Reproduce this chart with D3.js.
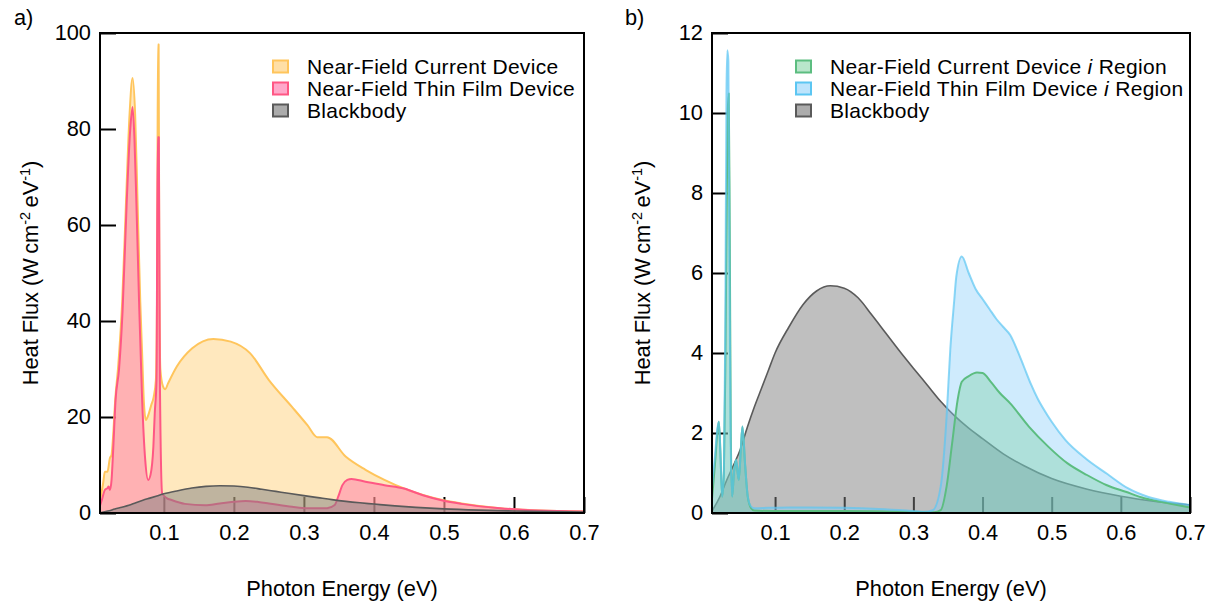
<!DOCTYPE html>
<html>
  <head>
    <meta charset="utf-8">
    <title>Heat flux spectra</title>
    <style type="text/css">
      body { margin: 0; background: #fff; overflow: hidden; }
      text { font-family: "Liberation Sans", Arial, Helvetica, sans-serif; fill: #000; }
    </style>
    <script src="https://d3js.org/d3.v7.min.js"></script>
  </head>
  <body>
    <svg width="1212" height="602"></svg>
    <script>
      // ---- data (photon energy in eV, flux in W cm^-2 eV^-1) ----
      const blackbodyE = [0.0088, 0.02, 0.03, 0.04, 0.05, 0.06, 0.07, 0.08, 0.09, 0.10, 0.12, 0.14, 0.16, 0.18,
        0.20, 0.22, 0.24, 0.26, 0.28, 0.30, 0.32, 0.34, 0.36, 0.38, 0.40, 0.43, 0.46, 0.50, 0.55, 0.60, 0.65, 0.70];
      const blackbodyFlux = [0.05, 0.4, 0.82, 1.2, 1.6, 2.15, 2.65, 3.1, 3.55, 4.0, 4.65, 5.2, 5.55, 5.68,
        5.62, 5.38, 4.95, 4.5, 4.05, 3.62, 3.2, 2.78, 2.42, 2.12, 1.86, 1.48, 1.18, 0.86, 0.6, 0.42, 0.29, 0.2];

      const currentE = [0.0088, 0.0133, 0.0157, 0.0195, 0.0229, 0.0253, 0.0275, 0.0305, 0.035, 0.0405, 0.046, 0.051,
        0.0553, 0.059, 0.0624, 0.0663, 0.069, 0.0715, 0.0743, 0.078, 0.082, 0.0855, 0.0886, 0.0905, 0.0915, 0.0925,
        0.0935, 0.095, 0.0985, 0.102, 0.106, 0.1185, 0.1405, 0.1707, 0.1955, 0.223, 0.25, 0.283, 0.305, 0.319, 0.333,
        0.36, 0.388, 0.415, 0.443, 0.47, 0.498, 0.525, 0.58, 0.635, 0.70];
      const currentFlux = [2.7, 6.2, 8.6, 8.6, 11.4, 12.1, 16, 23.5, 31, 44, 65, 83,
        90.6, 83, 65, 44, 33, 23, 19.4, 20.5, 22.5, 24.2, 27.7, 50, 97.6, 97.6,
        50, 30, 26.5, 25.8, 27, 30.5, 34.3, 36.25, 35.7, 33.3, 27.7, 22.1, 18.3, 15.8, 15.8,
        11.7, 9.0, 6.9, 5.1, 3.75, 2.7, 2.0, 1.0, 0.5, 0.3];

      const thinFilmE = [0.0088, 0.012, 0.0157, 0.0195, 0.021, 0.0229, 0.0253, 0.0276, 0.031, 0.036, 0.041, 0.047,
        0.052, 0.0553, 0.058, 0.0607, 0.0646, 0.069, 0.0734, 0.0776, 0.081, 0.085, 0.087, 0.0895, 0.0912, 0.0928,
        0.0943, 0.0976, 0.104, 0.111, 0.13, 0.159, 0.18, 0.2, 0.217, 0.235, 0.25, 0.283, 0.305, 0.333, 0.344,
        0.349, 0.355, 0.362, 0.368, 0.388, 0.415, 0.443, 0.47, 0.498, 0.525, 0.58, 0.635, 0.70];
      const thinFilmFlux = [1.5, 3.0, 4.8, 5.2, 5.5, 4.8, 6.9, 13.1, 23.5, 30, 42, 65,
        80, 84.6, 78, 65, 44, 23.5, 11, 6.9, 8, 13.8, 20.8, 27.7, 78.3, 78.3,
        27.7, 4.1, 3.1, 2.7, 1.9, 1.6, 2.0, 2.35, 2.5, 2.3, 2.0, 1.3, 1.0, 1.0, 1.67,
        3.4, 5.8, 6.9, 7.1, 6.5, 5.8, 5.1, 3.7, 2.6, 1.9, 1.0, 0.5, 0.3];

      const filmRegionE = [0.0088, 0.013, 0.0165, 0.0187, 0.021, 0.0235, 0.026, 0.028, 0.0297, 0.031, 0.0325, 0.034,
        0.0358, 0.0379, 0.0405, 0.0436, 0.0475, 0.0505, 0.0528, 0.0567, 0.0605, 0.0654, 0.07, 0.09, 0.12, 0.15,
        0.2, 0.25, 0.29, 0.315, 0.328, 0.3395, 0.348, 0.3534, 0.359, 0.362, 0.37, 0.38, 0.39, 0.40, 0.41, 0.42,
        0.43, 0.44, 0.45, 0.46, 0.47, 0.48, 0.49, 0.50, 0.52, 0.55, 0.58, 0.61, 0.64, 0.67, 0.70];
      const filmRegionFlux = [0.66, 1.4, 2.1, 2.28, 1.5, 0.41, 1.0, 4.5, 10.5, 11.57, 11.3, 6.5,
        1.8, 0.41, 1.0, 1.33, 0.83, 1.6, 2.16, 1.2, 0.41, 0.16, 0.12, 0.13, 0.14, 0.14,
        0.13, 0.1, 0.06, 0.03, 0.07, 0.66, 2.4, 4.1, 5.3, 5.9, 6.41, 6.0, 5.6, 5.35, 5.1, 4.85,
        4.65, 4.45, 4.08, 3.65, 3.22, 2.85, 2.55, 2.28, 1.82, 1.35, 0.98, 0.62, 0.4, 0.28, 0.2];

      const currentRegionE = [0.0088, 0.013, 0.0165, 0.0187, 0.021, 0.0235, 0.026, 0.028, 0.030, 0.0315, 0.033, 0.0345,
        0.036, 0.0379, 0.0405, 0.0436, 0.0475, 0.0505, 0.0528, 0.0567, 0.0605, 0.0654, 0.07, 0.1, 0.2, 0.3, 0.33,
        0.3395, 0.348, 0.356, 0.364, 0.37, 0.38, 0.392, 0.40, 0.412, 0.425, 0.44, 0.467, 0.495, 0.523, 0.551,
        0.579, 0.607, 0.634, 0.67, 0.70];
      const currentRegionFlux = [0.35, 1.2, 2.0, 2.28, 1.5, 0.41, 1.0, 3.5, 7.5, 10.0, 10.49, 7,
        2.0, 0.41, 1.0, 1.33, 0.83, 1.6, 2.16, 1.2, 0.41, 0.12, 0.06, 0.05, 0.05, 0.03, 0.02,
        0.07, 0.66, 1.74, 2.83, 3.28, 3.42, 3.51, 3.5, 3.28, 3.0, 2.74, 2.16, 1.66, 1.24, 0.95,
        0.7, 0.53, 0.37, 0.24, 0.14];

      const xTicks = [0.1, 0.2, 0.3, 0.4, 0.5, 0.6, 0.7];
      const yTicksA = [0, 20, 40, 60, 80, 100];
      const yTicksB = [0, 2, 4, 6, 8, 10, 12];

      const zip = (xs, ys) => xs.map((e, i) => ({ e: e, v: ys[i] }));
      const FONT = '21.8px';

      const panels = [
        {
          tag: 'a)', tagX: 14, left: 100, right: 584, yMax: 100, yTicks: yTicksA, swatchX: 273,
          series: [
            { name: ['Near-Field Current Device'], data: zip(currentE, currentFlux),
              stroke: '#ffc55c', fill: '#ffc55c', op: 0.4, lw: 2 },
            { name: ['Near-Field Thin Film Device'], data: zip(thinFilmE, thinFilmFlux),
              stroke: '#ff5784', fill: '#ff6ea6', op: 0.45, lw: 2 },
            { name: ['Blackbody'], data: zip(blackbodyE, blackbodyFlux),
              stroke: '#5a5a5a', fill: '#7f7f7f', op: 0.5, lw: 1.6 }
          ],
          drawOrder: [[0, 'a'], [0, 'l'], [1, 'a'], [1, 'l'], [2, 'a'], [2, 'l']],
          legendOrder: [0, 1, 2]
        },
        {
          tag: 'b)', tagX: 625, left: 712, right: 1190, yMax: 12, yTicks: yTicksB, swatchX: 796,
          series: [
            { name: ['Blackbody'], data: zip(blackbodyE, blackbodyFlux),
              stroke: '#5a5a5a', fill: '#7f7f7f', op: 0.5, lw: 1.6 },
            { name: ['Near-Field Thin Film Device ', 'i', ' Region'], data: zip(filmRegionE, filmRegionFlux),
              stroke: '#5cc6f2', fill: '#87cefa', op: 0.4, lw: 2, lineOp: 0.7 },
            { name: ['Near-Field Current Device ', 'i', ' Region'], data: zip(currentRegionE, currentRegionFlux),
              stroke: '#5cbd80', fill: '#64c88c', op: 0.3, lw: 2 }
          ],
          // blue outline goes on top, semi-transparent, so coinciding spikes look teal
          drawOrder: [[0, 'a'], [0, 'l'], [1, 'a'], [2, 'a'], [2, 'l'], [1, 'l']],
          legendOrder: [2, 1, 0]
        }
      ];

      const plotTop = 33, plotBottom = 513;
      const svg = d3.select('svg');

      panels.forEach((p, pi) => {
        const x = d3.scaleLinear().domain([0.0088, 0.7]).range([p.left, p.right]);
        const y = d3.scaleLinear().domain([0, p.yMax]).range([plotBottom, plotTop]);
        const g = svg.append('g');

        // ticks under the fills
        const xAxis = g.append('g')
          .attr('transform', `translate(0,${plotBottom})`)
          .call(d3.axisBottom(x).tickValues(xTicks).tickSize(-16).tickPadding(12).tickFormat(d3.format('.1f')));
        const yAxis = g.append('g')
          .attr('transform', `translate(${p.left},0)`)
          .call(d3.axisLeft(y).tickValues(p.yTicks).tickSize(-16).tickPadding(9));
        [xAxis, yAxis].forEach(a => {
          a.select('.domain').remove();
          a.selectAll('line').attr('stroke', '#000').attr('stroke-width', 2);
          a.selectAll('text').style('font-size', FONT).attr('fill', '#000');
        });

        const clipId = 'clip' + pi;
        g.append('clipPath').attr('id', clipId)
          .append('rect').attr('x', p.left).attr('y', plotTop)
          .attr('width', p.right - p.left).attr('height', plotBottom - plotTop);

        const area = d3.area().x(d => x(d.e)).y0(y(0)).y1(d => y(d.v)).curve(d3.curveMonotoneX);
        const line = d3.line().x(d => x(d.e)).y(d => y(d.v)).curve(d3.curveMonotoneX);
        const plot = g.append('g').attr('clip-path', `url(#${clipId})`);
        p.drawOrder.forEach(([si, kind]) => {
          const s = p.series[si];
          if (kind === 'a') {
            plot.append('path').attr('d', area(s.data))
              .attr('fill', s.fill).attr('fill-opacity', s.op);
          } else {
            plot.append('path').attr('d', line(s.data))
              .attr('fill', 'none').attr('stroke', s.stroke).attr('stroke-width', s.lw)
              .attr('stroke-opacity', s.lineOp || 1)
              .attr('stroke-linejoin', 'round');
          }
        });

        // frame
        g.append('rect')
          .attr('x', p.left).attr('y', plotTop)
          .attr('width', p.right - p.left).attr('height', plotBottom - plotTop)
          .attr('fill', 'none').attr('stroke', '#000').attr('stroke-width', 2);

        // legend (rows are tight in the original, so a slightly smaller, spaced-out face)
        const leg = g.append('g');
        p.legendOrder.forEach((si, row) => {
          const s = p.series[si];
          const cy = 66.5 + row * 22;
          leg.append('rect')
            .attr('x', p.swatchX).attr('y', cy - 6).attr('width', 15).attr('height', 12)
            .attr('fill', s.fill).attr('fill-opacity', Math.min(1, s.op + 0.15))
            .attr('stroke', s.stroke).attr('stroke-width', 2);
          const t = leg.append('text')
            .attr('x', p.swatchX + 34).attr('y', cy).attr('dy', '0.35em')
            .style('font-size', '21px').style('letter-spacing', '0.3px');
          s.name.forEach((part, k) => {
            t.append('tspan').text(part).style('font-style', k === 1 ? 'italic' : 'normal');
          });
        });

        // panel tag
        g.append('text').attr('x', p.tagX).attr('y', 25).style('font-size', FONT).text(p.tag);

        // x title
        g.append('text')
          .attr('x', (p.left + p.right) / 2).attr('y', 596)
          .attr('text-anchor', 'middle').style('font-size', FONT)
          .text('Photon Energy (eV)');

        // y title
        const yt = g.append('text')
          .attr('transform', `translate(${p.left - 62},${(plotTop + plotBottom) / 2}) rotate(-90)`)
          .attr('text-anchor', 'middle').style('font-size', FONT);
        yt.append('tspan').text('Heat Flux (W\u2009cm');
        yt.append('tspan').attr('dy', -8).style('font-size', '14.5px').text('-2');
        yt.append('tspan').attr('dy', 8).text('\u2009eV');
        yt.append('tspan').attr('dy', -8).style('font-size', '14.5px').text('-1');
        yt.append('tspan').attr('dy', 8).text(')');
      });
    </script>
  </body>
</html>
